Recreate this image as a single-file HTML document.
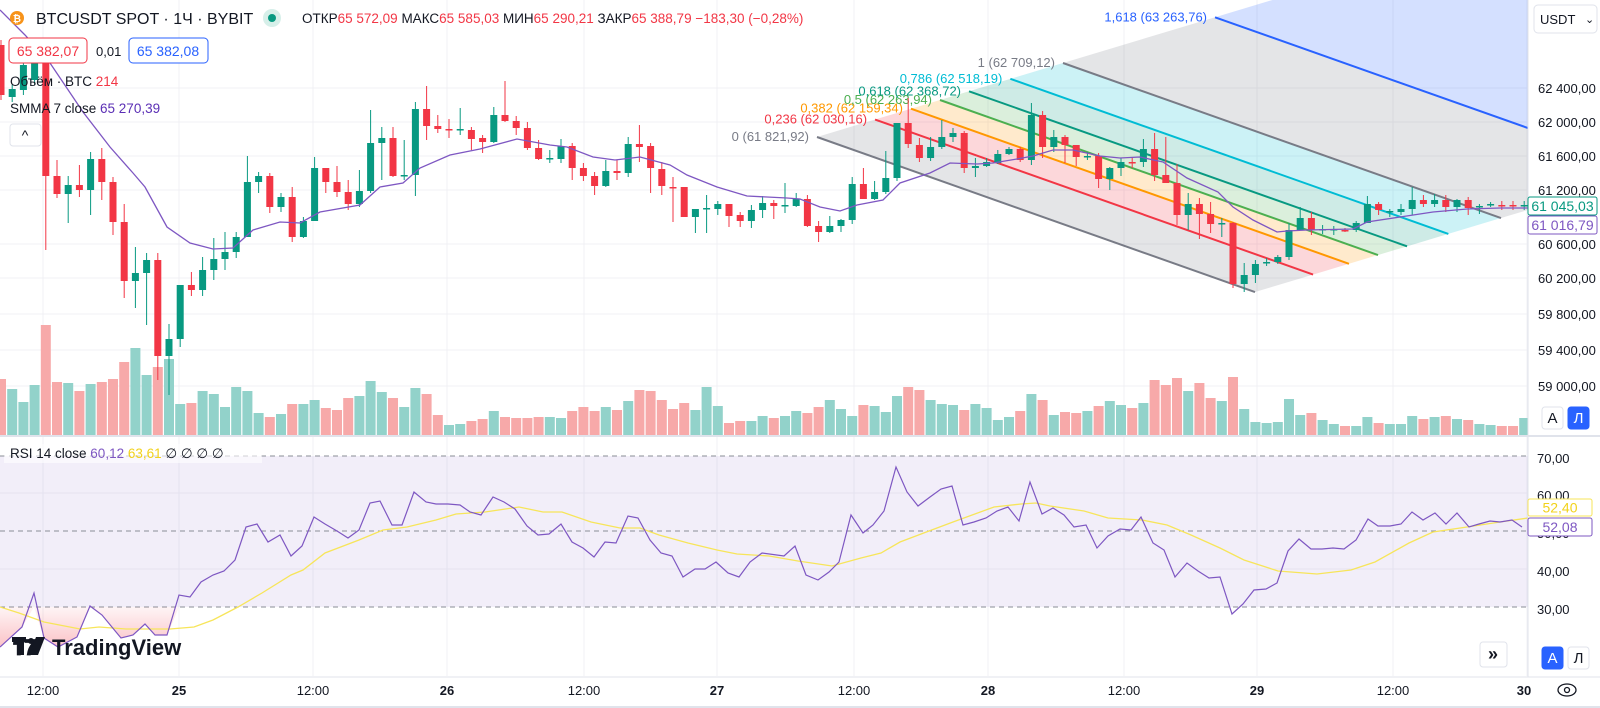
<!DOCTYPE html>
<html><head><meta charset="utf-8">
<style>
html,body{margin:0;padding:0;background:#fff;width:1600px;height:708px;overflow:hidden;font-family:"Liberation Sans","Noto Sans CJK SC",sans-serif;}
svg{position:absolute;left:0;top:0}
.t{font-family:"Liberation Sans","DejaVu Sans",sans-serif}
</style></head>
<body>
<svg id="s" width="1600" height="708" viewBox="0 0 1600 708" xmlns="http://www.w3.org/2000/svg">
<defs>
<clipPath id="mc"><rect x="0" y="0" width="1528" height="435"/></clipPath>
<clipPath id="rc"><rect x="0" y="437" width="1528" height="240"/></clipPath>
<linearGradient id="pg" x1="0" y1="0" x2="0" y2="1"><stop offset="0" stop-color="#f23645" stop-opacity="0.05"/><stop offset="1" stop-color="#f23645" stop-opacity="0.3"/></linearGradient>
</defs>
<g id="grid" stroke="#f0f1f4" stroke-width="1"></g>
<g id="main" clip-path="url(#mc)"></g>
<g id="rsi" clip-path="url(#rc)"></g>
<g id="ui"></g>
</svg>
<script>
const NS="http://www.w3.org/2000/svg";
function el(p,tag,a,txt){const e=document.createElementNS(NS,tag);for(const k in a)e.setAttribute(k,a[k]);if(txt!==undefined)e.textContent=txt;p.appendChild(e);return e;}
const G=document.getElementById('grid'),M=document.getElementById('main'),R=document.getElementById('rsi'),U=document.getElementById('ui');
// grid
const tx=[43,179,313,447,584,717,854,988,1124,1257,1393,1527];
tx.forEach(x=>el(G,'line',{x1:x,y1:0,x2:x,y2:676}));
[88,122,156,190,244,278,314,350,386].forEach(y=>el(G,'line',{x1:0,y1:y,x2:1528,y2:y}));
// fib
const slope=0.354;
function st(L){return [817+246*L,137-74*L];}
function en(L){const s=st(L);return [s[0]+438,s[1]+438*slope];}
const lv=[[0,'#787b86','rgba(120,123,134,0.2)','0 (61 821,92)'],[0.236,'#f23645','rgba(242,54,69,0.2)','0,236 (62 030,16)'],[0.382,'#ff9800','rgba(255,152,0,0.2)','0,382 (62 159,34)'],[0.5,'#4caf50','rgba(76,175,80,0.2)','0,5 (62 263,94)'],[0.618,'#089981','rgba(8,153,129,0.2)','0,618 (62 368,72)'],[0.786,'#00bcd4','rgba(0,188,212,0.2)','0,786 (62 518,19)'],[1,'#787b86','rgba(120,123,134,0.2)','1 (62 709,12)'],[1.618,'#2962ff','rgba(41,98,255,0.2)','1,618 (63 263,76)'],[2.618,'#2962ff','','']];
for(let i=0;i<lv.length-1;i++){const a=st(lv[i][0]),b=en(lv[i][0]),c=en(lv[i+1][0]),d=st(lv[i+1][0]);
el(M,'polygon',{points:[a,b,c,d].map(p=>p.join(',')).join(' '),fill:lv[i][2]});}
// volume
const V=[[377,0],[387,1],[400,1],[383,1],[323,0],[380,0],[381,1],[389,0],[382,1],[380,0],[377,0],[360,0],[346,1],[373,1],[365,0],[357,1],[402,1],[401,0],[389,1],[392,1],[405,1],[385,1],[389,1],[411,1],[415,0],[412,1],[402,0],[402,1],[398,1],[406,0],[408,0],[396,0],[394,1],[379,1],[390,1],[396,0],[405,1],[386,1],[392,0],[413,0],[423,1],[422,1],[419,0],[417,0],[409,1],[415,0],[416,0],[416,0],[415,0],[415,1],[416,1],[409,0],[405,0],[409,0],[405,1],[408,0],[399,1],[388,0],[389,0],[398,0],[407,0],[401,0],[408,1],[385,1],[404,1],[421,0],[419,0],[419,1],[414,1],[416,0],[414,1],[409,1],[411,0],[405,0],[398,1],[407,1],[414,1],[403,0],[404,1],[410,1],[394,1],[385,0],[388,0],[398,1],[402,1],[403,1],[408,0],[402,1],[406,1],[418,1],[415,1],[409,0],[392,1],[398,0],[413,1],[410,0],[411,0],[409,1],[404,0],[399,1],[403,1],[406,0],[401,1],[378,0],[383,0],[376,0],[389,1],[381,0],[396,0],[399,1],[375,0],[407,1],[420,1],[421,1],[420,1],[397,1],[413,1],[411,0],[418,1],[422,1],[424,0],[424,1],[415,1],[421,0],[422,1],[422,1],[414,1],[417,0],[415,1],[414,0],[417,1],[418,0],[422,1],[423,1],[424,0],[424,0],[416,1]];
V.forEach((v,i)=>{const x=11.2*i+1;el(M,'rect',{x:x-5,y:v[0]+2,width:10,height:434-v[0],fill:v[1]?'#92d2ca':'#f7a9a9'});});
// fib lines
lv.slice(0,8).forEach(l=>{const a=st(l[0]),b=en(l[0]);el(M,'line',{x1:a[0],y1:a[1],x2:b[0],y2:b[1],stroke:l[1],'stroke-width':2});
el(M,'text',{x:a[0]-8,y:a[1]+4,'text-anchor':'end','font-size':13,fill:l[1],class:'t'},l[3]);});
// candles [o,c,h,l]
const C=[[45,95,40,100],[97,89,85,102],[90,65,60,95],[80,62,55,85],[63,176,58,250],[176,194,160,198],[194,185,176,223],[185,190,165,197],[190,159,152,215],[159,182,148,200],[182,222,177,235],[222,281,204,298],[281,273,247,308],[273,260,253,325],[260,356,253,380],[356,339,324,395],[339,285,285,347],[285,290,272,296],[290,270,257,296],[270,259,238,280],[259,252,232,270],[252,237,232,258],[237,182,156,237],[182,176,172,193],[176,207,173,213],[207,197,193,212],[197,237,187,242],[237,221,217,238],[221,168,157,221],[168,182,168,193],[182,192,166,197],[192,204,180,210],[204,191,170,207],[191,143,110,193],[143,138,127,180],[138,176,127,177],[176,175,140,180],[175,109,102,196],[109,126,86,140],[126,129,115,133],[129,129,119,138],[129,129,108,135],[130,139,127,150],[138,142,135,153],[142,115,107,143],[115,121,81,122],[121,128,116,135],[128,148,122,150],[148,159,140,160],[159,158,150,163],[159,146,139,163],[146,168,143,180],[168,176,163,181],[176,186,172,195],[186,171,160,187],[171,173,160,180],[173,144,137,177],[144,147,125,162],[146,168,143,193],[169,186,162,195],[187,188,177,222],[187,217,187,217],[217,209,209,233],[209,208,195,233],[209,204,201,215],[204,216,204,227],[215,221,212,227],[221,210,205,228],[210,203,196,218],[203,206,200,219],[206,205,183,213],[206,199,193,207],[199,226,195,227],[226,232,221,242],[232,226,216,233],[226,220,219,232],[220,184,177,224],[184,199,168,199],[199,192,181,200],[192,178,151,194],[178,123,123,181],[123,144,98,148],[145,158,138,162],[158,147,137,161],[147,137,120,149],[137,133,128,142],[133,168,131,173],[168,166,158,177],[166,162,158,167],[163,154,150,164],[154,149,147,155],[149,160,147,162],[160,115,103,165],[115,147,111,158],[147,137,130,152],[137,145,135,163],[145,157,145,166],[157,156,152,160],[156,179,153,188],[179,168,167,190],[168,162,158,176],[162,163,158,168],[162,149,139,167],[149,175,133,181],[175,183,137,183],[183,215,164,225],[215,204,193,230],[204,214,198,239],[214,224,202,233],[224,223,218,237],[223,284,222,288],[284,275,263,292],[275,264,260,283],[263,262,258,266],[262,257,255,264],[257,230,223,260],[230,218,207,230],[218,230,212,235],[230,229,225,234],[230,229,226,235],[230,231,228,232],[230,223,221,232],[223,204,196,223],[204,210,202,215],[212,211,209,217],[212,209,204,215],[209,200,187,215],[200,204,195,207],[204,200,194,207],[200,207,195,212],[207,200,199,212],[200,208,197,215],[207,206,204,214],[205,204,202,207],[205,206,201,210],[205,206,201,210],[206,205,201,210]];
C.forEach((c,i)=>{const x=11.2*i+1;const up=c[1]<c[0]||(c[1]==c[0]&&i%2);const col=up?'#089981':'#f23645';
el(M,'line',{x1:x,y1:c[2],x2:x,y2:c[3],stroke:col,'stroke-width':1});
const t=Math.min(c[0],c[1]),h=Math.max(1.5,Math.abs(c[0]-c[1]));el(M,'rect',{x:x-3.5,y:t,width:7,height:h,fill:col});});
// SMMA
const S=[[0,10],[25,35],[50,63],[83,112],[110,147],[133,173],[145,187],[167,227],[190,243],[213,249],[233,248],[253,230],[280,222],[300,223],[320,212],[360,205],[380,187],[403,183],[420,168],[450,155],[480,149],[517,139],[550,145],[567,147],[593,157],[615,160],[640,157],[670,165],[687,175],[717,187],[747,196],[787,198],[800,199],[820,207],[840,211],[857,205],[883,200],[900,183],[930,173],[950,163],[977,164],[993,163],[1017,159],[1033,156],[1053,150],[1073,150],[1100,156],[1120,158],[1140,157],[1163,162],[1187,178],[1218,192],[1233,207],[1253,220],[1277,232],[1287,231],[1307,230],[1353,229],[1367,222],[1400,217],[1433,212],[1467,209],[1500,208],[1528,208]];
el(M,'polyline',{points:S.map(p=>p.join(',')).join(' '),fill:'none',stroke:'#7e57c2','stroke-width':1.3});
// separators
el(U,'line',{x1:0,y1:436,x2:1600,y2:436,stroke:'#e0e3eb','stroke-width':2});
el(U,'line',{x1:1528,y1:0,x2:1528,y2:677,stroke:'#e0e3eb'});
el(U,'line',{x1:0,y1:677,x2:1600,y2:677,stroke:'#e0e3eb'});
el(U,'line',{x1:0,y1:707,x2:1600,y2:707,stroke:'#e0e3eb','stroke-width':2});
// RSI pane
el(R,'rect',{x:0,y:456,width:1528,height:151,fill:'rgba(126,87,194,0.1)'});
[493,569].forEach(y=>el(R,'line',{x1:0,y1:y,x2:1528,y2:y,stroke:'#e6e3ef'}));
[456,531,607].forEach(y=>el(R,'line',{x1:0,y1:y,x2:1528,y2:y,stroke:'#8a8d96','stroke-dasharray':'5,4'}));
const RS=[[0,647],[22,627],[34,593],[44,638],[58,647],[77,637],[90,606],[102,615],[121,638],[133,635],[145,624],[155,635],[167,635],[179,595],[190,597],[201,582],[213,575],[224,571],[235,560],[246,527],[257,524],[268,542],[280,535],[291,556],[302,546],[314,517],[325,524],[337,531],[348,538],[359,530],[370,503],[380,501],[392,525],[402,525],[414,492],[426,502],[436,504],[448,504],[460,505],[470,512],[481,515],[493,497],[504,502],[515,509],[527,526],[538,535],[549,534],[561,524],[572,542],[583,548],[594,557],[605,542],[616,543],[628,516],[638,518],[650,540],[661,553],[672,556],[683,577],[695,569],[705,569],[716,562],[728,573],[739,577],[750,562],[762,553],[784,556],[795,546],[806,575],[818,580],[829,572],[839,562],[851,515],[863,533],[873,525],[884,511],[896,467],[907,492],[918,506],[930,497],[941,489],[952,486],[963,525],[974,522],[986,518],[997,511],[1008,507],[1019,521],[1030,482],[1042,514],[1053,508],[1064,515],[1074,527],[1086,525],[1097,548],[1108,536],[1120,529],[1131,530],[1141,517],[1153,543],[1164,550],[1175,577],[1187,563],[1198,571],[1209,578],[1220,577],[1232,614],[1243,604],[1254,590],[1266,589],[1277,583],[1288,551],[1299,539],[1311,549],[1322,549],[1333,548],[1344,549],[1356,540],[1368,519],[1378,526],[1390,526],[1401,524],[1412,512],[1423,520],[1435,513],[1446,524],[1457,513],[1469,527],[1479,524],[1490,521],[1500,522],[1512,520],[1522,527]];
const pf=RS.filter(p=>p[0]<=180).map(p=>[p[0],Math.max(p[1],607)]);
el(R,'polygon',{points:'0,607 '+pf.map(p=>p.join(',')).join(' ')+' 180,607',fill:'url(#pg)'});
const MA=[[0,607],[19,613],[44,622],[80,629],[99,627],[126,629],[170,629],[194,627],[213,620],[238,607],[262,593],[291,575],[303,570],[325,553],[359,540],[383,530],[407,527],[436,520],[456,514],[485,512],[519,507],[543,512],[562,512],[591,522],[620,528],[640,528],[659,535],[688,543],[717,550],[737,554],[769,556],[798,561],[832,566],[861,558],[881,553],[900,542],[929,531],[953,522],[994,507],[1021,504],[1036,503],[1050,506],[1084,511],[1108,518],[1142,520],[1167,525],[1191,535],[1220,548],[1244,560],[1278,571],[1317,574],[1351,570],[1375,562],[1409,543],[1433,532],[1467,527],[1500,522],[1528,518]];
el(R,'polyline',{points:MA.map(p=>p.join(',')).join(' '),fill:'none',stroke:'#f7e55a','stroke-width':1.3});
el(R,'polyline',{points:RS.map(p=>p.join(',')).join(' '),fill:'none',stroke:'#7e57c2','stroke-width':1.2});
// axis labels
const T=(x,y,s,o)=>el(U,'text',Object.assign({x:x,y:y,'font-size':13,fill:'#131722',class:'t'},o||{}),s);
[[88,'62 400,00'],[122,'62 000,00'],[156,'61 600,00'],[190,'61 200,00'],[244,'60 600,00'],[278,'60 200,00'],[314,'59 800,00'],[350,'59 400,00'],[386,'59 000,00']].forEach(a=>T(1538,a[0]+5,a[1]));
[[458,'70,00'],[495,'60,00'],[533,'50,00'],[571,'40,00'],[609,'30,00']].forEach(a=>T(1537,a[0]+5,a[1]));
// price boxes
function box(x,y,w,h,stroke,fill,txtc,s,fs){el(U,'rect',{x:x,y:y,width:w,height:h,rx:2,fill:fill,stroke:stroke});el(U,'text',{x:x+w/2,y:y+h/2+5,'text-anchor':'middle','font-size':fs||14,fill:txtc,class:'t'},s);}
box(1528,197,69,18,'#089981','#fff','#089981','61 045,03');
box(1528,216,69,18,'#7e57c2','#fff','#7e57c2','61 016,79');
box(1528,499,64,17,'#f7e55a','#fff','#f2d21b','52,40');
box(1528,518,64,18,'#7e57c2','#fff','#7e57c2','52,08');
// USDT
el(U,'rect',{x:1534,y:5,width:63,height:28,rx:4,fill:'#fff',stroke:'#e0e3eb'});
T(1540,24,'USDT',{'font-size':13});T(1585,23,'⌄',{'font-size':11});
// A / Л
function btn(x,y,on,s){el(U,'rect',{x:x,y:y,width:21,height:22,rx:3,fill:on?'#2962ff':'#fff',stroke:on?'#2962ff':'#e0e3eb'});el(U,'text',{x:x+10.5,y:y+16,'text-anchor':'middle','font-size':15,fill:on?'#fff':'#131722',class:'t'},s);}
btn(1542,407,false,'A');btn(1568,407,true,'Л');btn(1542,647,true,'A');btn(1568,647,false,'Л');
el(U,'rect',{x:1480,y:642,width:27,height:25,rx:3,fill:'#fff',stroke:'#e0e3eb'});
T(1493,660,'»',{'font-size':18,'text-anchor':'middle','font-weight':'bold'});
// eye icon
el(U,'ellipse',{cx:1567,cy:690,rx:9,ry:6,fill:'none',stroke:'#131722','stroke-width':1.3});
el(U,'circle',{cx:1567,cy:690,r:2.5,fill:'none',stroke:'#131722','stroke-width':1.3});
// time labels
[['12:00',43],['25',179],['12:00',313],['26',447],['12:00',584],['27',717],['12:00',854],['28',988],['12:00',1124],['29',1257],['12:00',1393],['30',1524]].forEach(a=>T(a[1],695,a[0],{'text-anchor':'middle','font-weight':/^\d\d$/.test(a[0])?'bold':'normal'}));
// header
el(U,'circle',{cx:17,cy:18,r:7,fill:'#f7931a'});
el(U,'text',{x:17,y:22,'text-anchor':'middle','font-size':10,fill:'#fff',class:'t','font-weight':'bold'},'₿');
T(36,24,'BTCUSDT SPOT · 1Ч · BYBIT',{'font-size':16});
el(U,'circle',{cx:272,cy:18,r:9,fill:'#d6efe9'});el(U,'circle',{cx:272,cy:18,r:4,fill:'#089981'});
const hdr=el(U,'text',{x:302,y:23,'font-size':13.5,class:'t',fill:'#131722'});
[['ОТКР','#131722'],['65 572,09 ','#f23645'],['МАКС','#131722'],['65 585,03 ','#f23645'],['МИН','#131722'],['65 290,21 ','#f23645'],['ЗАКР','#131722'],['65 388,79 −183,30 (−0,28%)','#f23645']].forEach(a=>el(hdr,'tspan',{fill:a[1]},a[0]));
el(U,'rect',{x:9,y:38,width:78,height:25,rx:4,fill:'#fff',stroke:'#f23645'});
T(48,56,'65 382,07',{'text-anchor':'middle',fill:'#f23645','font-size':14});
T(96,56,'0,01',{'font-size':13});
el(U,'rect',{x:129,y:38,width:79,height:25,rx:4,fill:'#fff',stroke:'#2962ff'});
T(168,56,'65 382,08',{'text-anchor':'middle',fill:'#2962ff','font-size':14});
const t1=el(U,'text',{x:10,y:86,'font-size':13.5,class:'t',fill:'#131722'});el(t1,'tspan',{},'Объём · BTC  ');el(t1,'tspan',{fill:'#f23645'},'214');
const t2=el(U,'text',{x:10,y:113,'font-size':13.5,class:'t',fill:'#131722'});el(t2,'tspan',{},'SMMA 7 close  ');el(t2,'tspan',{fill:'#5b2fb5'},'65 270,39');
el(U,'rect',{x:10,y:124,width:31,height:22,rx:3,fill:'#fff',stroke:'#e0e3eb'});
T(25,140,'^',{'text-anchor':'middle','font-size':14});
el(U,'rect',{x:4,y:444,width:258,height:19,fill:'rgba(255,255,255,0.6)'});
const t3=el(U,'text',{x:10,y:458,'font-size':13.5,class:'t',fill:'#131722'});
[['RSI 14 close  ','#131722'],['60,12  ','#7e57c2'],['63,61  ','#f2d21b'],['∅  ∅  ∅  ∅','#131722']].forEach(a=>el(t3,'tspan',{fill:a[1]},a[0]));
// logo
el(U,'text',{x:12,y:655,'font-size':22,'font-weight':'bold',fill:'#131722',class:'t'},'𝟏𝟕');
el(U,'rect',{x:12,y:637,width:14,height:5,fill:'#131722'});el(U,'rect',{x:18,y:637,width:6,height:18,fill:'#131722'});
el(U,'circle',{cx:31,cy:641,r:3,fill:'#131722'});el(U,'polygon',{points:'36,637 45,637 38,655 29,655',fill:'#131722'});
T(52,655,'TradingView',{'font-size':22,'font-weight':'bold'});
</script>
</body></html>
